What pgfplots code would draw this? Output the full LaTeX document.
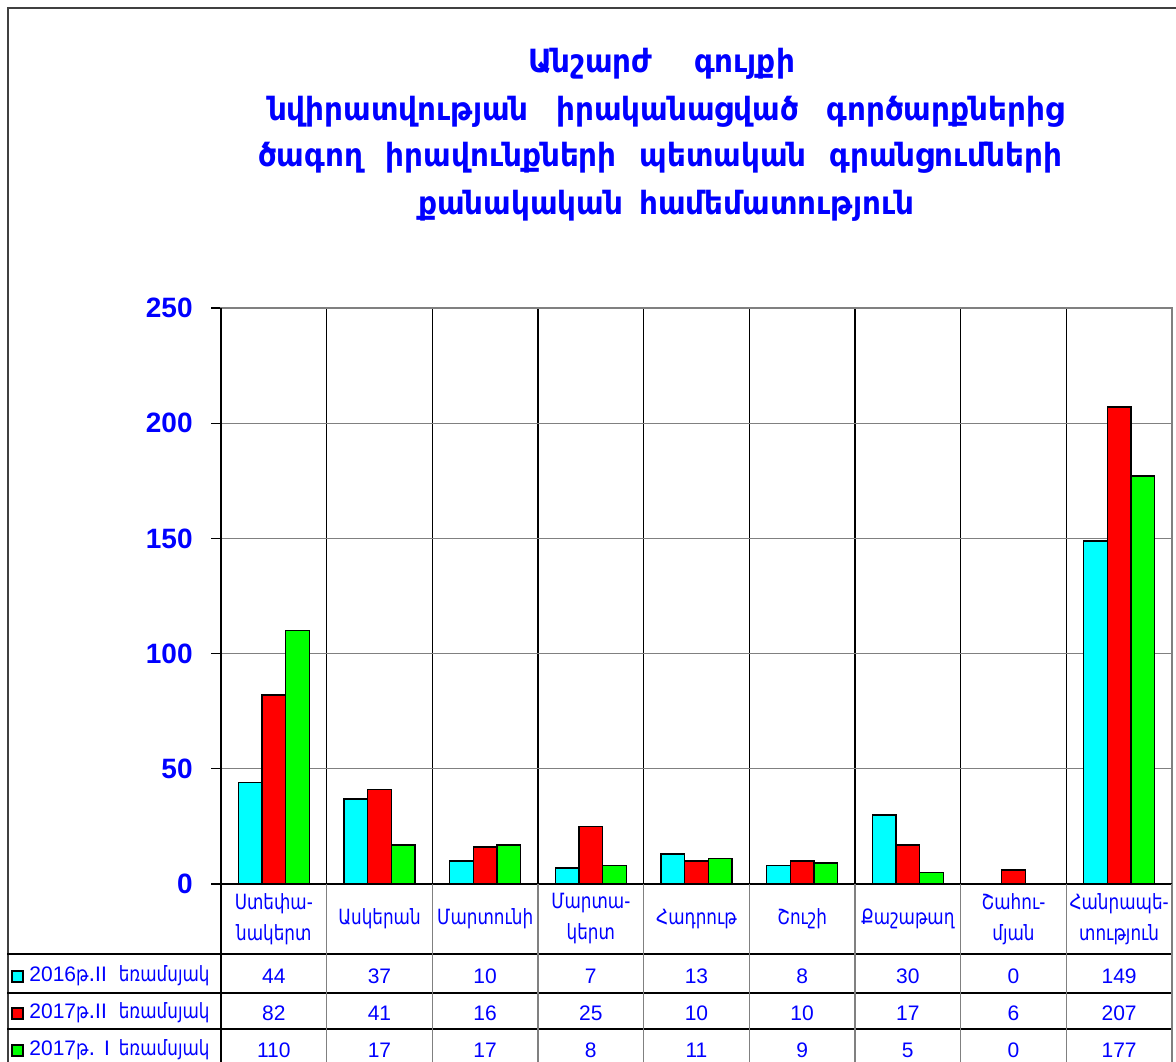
\documentclass[border=0pt]{standalone}
\usepackage{fontspec}
\setmainfont{DejaVu Sans}
\newfontfamily\armn[FakeStretch=0.8]{DejaVu Sans}
\newfontfamily\armt[FakeStretch=0.92]{DejaVu Sans}
\newfontfamily\arial{Liberation Sans}
\usepackage{pgfplots}
\usepackage{pgfplotstable}
\pgfplotsset{compat=1.18}
\definecolor{tblue}{RGB}{0,0,255}
\definecolor{bcyan}{RGB}{0,255,255}
\definecolor{bred}{RGB}{255,0,0}
\definecolor{bgreen}{RGB}{0,255,0}
\definecolor{frame}{RGB}{64,64,64}

\pgfplotstableread{
x a b c
0 44 82 110
1 37 41 17
2 10 16 17
3 7 25 8
4 13 10 11
5 8 10 9
6 30 17 5
7 0 6 0
8 149 207 177
}\data

\begin{document}
\begin{tikzpicture}
\begin{axis}[
  at={(110.5pt,-442pt)}, anchor=south west,
  width=475.5pt, height=288pt, scale only axis,
  xmin=-0.5, xmax=8.5, ymin=0, ymax=250,
  xtick={-0.5,0.5,...,8.5}, xticklabels={},
  major x tick style={draw=none},
  ytick={0,50,...,250}, ytick pos=left,
  xmajorgrids, ymajorgrids,
  x grid style={black, line width=0.6pt},
  y grid style={gray, line width=0.6pt},
  axis line style={gray, line width=0.8pt},
  major y tick style={black, line width=0.6pt},
  tick align=outside, major tick length=5pt,
  /pgf/number format/assume math mode=true,
  yticklabel style={font=\arial\bfseries\fontsize{14}{14}\selectfont, text=tblue, inner sep=0pt, xshift=-9pt},
  every node near coord/.append style={anchor=center, font=\arial\fontsize{10.5}{12}\selectfont, text=tblue},
  clip=false,
]
\addplot[ybar, bar width=0.224, bar shift=-0.224, fill=bcyan, draw=black, line width=0.8pt] table[x=x,y=a]{\data};
\addplot[ybar, bar width=0.224, bar shift=0, fill=bred, draw=black, line width=0.8pt] table[x=x,y=b]{\data};
\addplot[ybar, bar width=0.224, bar shift=0.224, fill=bgreen, draw=black, line width=0.8pt] table[x=x,y=c]{\data};

\addplot[draw=none, mark=none, nodes near coords, point meta=explicit] table[x=x, y expr=-39.93, meta=a]{\data};
\addplot[draw=none, mark=none, nodes near coords, point meta=explicit] table[x=x, y expr=-55.99, meta=b]{\data};
\addplot[draw=none, mark=none, nodes near coords, point meta=explicit] table[x=x, y expr=-72.05, meta=c]{\data};

\draw[black, line width=0.8pt] (axis cs:-0.5,0) -- (axis cs:-0.5,250);

\begin{scope}[every node/.style={text=tblue, align=center, font=\armn\fontsize{10.5}{15.5}\selectfont}]
\node at (axis cs:0,-15.19) {Ստեփա-\\նակերտ};
\node at (axis cs:1,-15.19) {Ասկերան};
\node at (axis cs:2,-15.19) {Մարտունի};
\node at (axis cs:3,-15.19) {Մարտա-\\կերտ};
\node at (axis cs:4,-15.19) {Հադրութ};
\node at (axis cs:5,-15.19) {Շուշի};
\node at (axis cs:6,-15.19) {Քաշաթաղ};
\node at (axis cs:7,-15.19) {Շահու-\\մյան};
\node at (axis cs:8,-15.19) {Հանրապե-\\տություն};
\end{scope}
\end{axis}

\begin{scope}[x=0.5pt, y=-0.5pt]
% outer frame
\draw[frame, line width=1pt] (7.5,1075) -- (7.5,7.5) -- (1185,7.5);
% table lines
\draw[black, line width=0.6pt] (221,884) -- (1172,884);
\foreach \yy in {954,993,1029} \draw[black, line width=0.6pt] (7,\yy) -- (1172,\yy);
\draw[black, line width=0.6pt] (221,884) -- (221,1075);
\foreach \k in {1,...,8} \draw[gray, line width=0.6pt] ({221+105.667*\k},884) -- ({221+105.667*\k},1075);
\draw[gray, line width=0.8pt] (1172,884) -- (1172,1075);
% legend keys
\foreach \yy/\cc in {976/bcyan, 1013/bred, 1050/bgreen}
  \draw[black, line width=0.6pt, fill=\cc] (12,\yy-5) rectangle (23,\yy+6);
\begin{scope}[every node/.style={text=tblue, inner sep=0pt, font=\fontsize{10.5}{12}\selectfont}]
\node[anchor=west] at (29,976) {{\arial 2016}{\armn թ}.{\arial II}};
\node[anchor=west] at (29,1013) {{\arial 2017}{\armn թ}.{\arial II}};
\node[anchor=west] at (29,1050) {{\arial 2017}{\armn թ}. {\arial I}};
\node[anchor=east] at (210,976) {\armn եռամսյակ};
\node[anchor=east] at (210,1013) {\armn եռամսյակ};
\node[anchor=east] at (210,1050) {\armn եռամսյակ};
\end{scope}
% title
\begin{scope}[every node/.style={text=tblue, inner sep=0pt, anchor=base, font=\armt\bfseries\fontsize{16}{16}\selectfont}]
\node at (661.5,72) {\makebox[133.5pt][s]{Անշարժ գույքի}};
\node at (666,120) {\makebox[398pt][s]{նվիրատվության իրականացված գործարքներից}};
\node at (660,166) {\makebox[402pt][s]{ծագող իրավունքների պետական գրանցումների}};
\node at (666,214) {\makebox[248pt][s]{քանակական համեմատություն}};
\end{scope}
\pgfresetboundingbox
\useasboundingbox (0,0) rectangle (1176,1061);
\end{scope}
\end{tikzpicture}
\end{document}
